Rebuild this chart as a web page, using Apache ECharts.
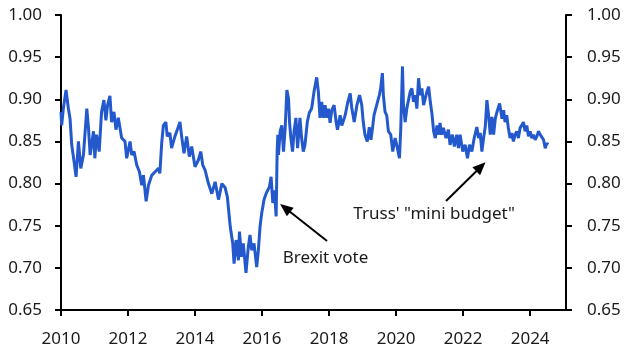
<!DOCTYPE html>
<html><head><meta charset="utf-8">
<script src="https://cdn.jsdelivr.net/npm/echarts@6/dist/echarts.min.js"></script>
<style>html,body{margin:0;padding:0;background:#fff}#c{width:633px;height:362px}</style>
</head><body><div id="c"></div>
<script>
// Decimal-year dates and EUR/GBP-style values
const dates = [
2010.00,2010.02,2010.07,2010.15,2010.22,2010.27,2010.32,2010.39,2010.45,2010.52,2010.59,2010.67,2010.77,2010.82,2010.87,2010.97,
2011.01,2011.06,2011.14,2011.21,2011.28,2011.34,2011.39,2011.46,2011.51,2011.58,2011.64,2011.71,2011.81,2011.91,2011.96,
2012.06,2012.11,2012.18,2012.26,2012.34,2012.41,2012.46,2012.54,2012.61,2012.71,2012.81,2012.91,2012.95,
2013.005,2013.055,2013.13,2013.17,2013.25,2013.30,2013.40,2013.50,2013.55,2013.60,2013.67,2013.75,2013.83,2013.90,
2014.00,2014.10,2014.17,2014.23,2014.30,2014.40,2014.50,2014.60,2014.70,2014.80,2014.90,2014.965,
2015.05,2015.125,2015.165,2015.225,2015.295,2015.325,2015.39,2015.44,2015.52,2015.59,2015.64,2015.69,2015.76,2015.84,2015.89,2015.94,2015.99,
2016.06,2016.12,2016.22,2016.27,2016.32,2016.37,2016.42,2016.45,2016.47,2016.49,2016.54,2016.59,2016.64,2016.69,2016.74,2016.79,2016.82,2016.86,2016.91,2016.955,
2017.01,2017.06,2017.13,2017.18,2017.23,2017.28,2017.35,2017.41,2017.48,2017.55,2017.63,2017.68,2017.73,2017.78,2017.83,2017.88,2017.93,2017.98,
2018.03,2018.08,2018.15,2018.21,2018.25,2018.33,2018.38,2018.48,2018.55,2018.63,2018.68,2018.75,2018.83,2018.91,2018.975,
2019.02,2019.07,2019.14,2019.20,2019.25,2019.30,2019.34,2019.42,2019.50,2019.54,2019.59,2019.62,2019.67,2019.72,2019.77,2019.84,2019.90,2019.97,
2020.04,2020.10,2020.14,2020.19,2020.22,2020.27,2020.32,2020.37,2020.42,2020.47,2020.52,2020.57,2020.62,2020.67,2020.72,2020.77,2020.82,2020.87,2020.92,2020.97,
2021.02,2021.07,2021.12,2021.17,2021.22,2021.27,2021.31,2021.36,2021.41,2021.49,2021.56,2021.61,2021.68,2021.74,2021.81,2021.86,2021.91,2021.99,
2022.06,2022.13,2022.19,2022.26,2022.33,2022.41,2022.46,2022.51,2022.56,2022.61,2022.66,2022.71,2022.76,2022.81,2022.86,2022.91,2022.96,
2023.01,2023.09,2023.16,2023.21,2023.25,2023.30,2023.35,2023.40,2023.45,2023.50,2023.55,2023.60,2023.65,2023.70,2023.75,2023.80,2023.85,2023.90,2023.95,
2024.00,2024.05,2024.10,2024.15,2024.20,2024.25,2024.30,2024.35,2024.40,2024.45,2024.50,2024.53
];
const rates = [
0.885,0.869,0.889,0.911,0.889,0.877,0.846,0.826,0.808,0.850,0.818,0.834,0.889,0.866,0.834,0.862,
0.830,0.858,0.838,0.885,0.899,0.875,0.893,0.904,0.873,0.885,0.864,0.878,0.854,0.850,0.830,
0.850,0.834,0.838,0.822,0.814,0.798,0.810,0.779,0.798,0.810,0.814,0.818,0.812,
0.848,0.869,0.873,0.856,0.860,0.842,0.856,0.867,0.873,0.856,0.836,0.856,0.832,0.844,
0.820,0.828,0.838,0.822,0.816,0.800,0.788,0.802,0.781,0.800,0.795,0.784,
0.749,0.729,0.705,0.733,0.709,0.743,0.713,0.729,0.694,0.725,0.739,0.721,0.729,0.701,0.721,0.749,0.765,
0.781,0.788,0.796,0.808,0.777,0.792,0.761,0.838,0.858,0.834,0.862,0.869,0.838,0.866,0.911,0.901,0.873,0.854,0.838,0.862,
0.878,0.842,0.878,0.854,0.838,0.846,0.873,0.884,0.889,0.909,0.926,0.909,0.878,0.897,0.878,0.893,0.878,0.889,
0.872,0.887,0.893,0.873,0.864,0.881,0.869,0.881,0.895,0.907,0.889,0.873,0.893,0.905,0.893,
0.873,0.858,0.850,0.867,0.852,0.867,0.881,0.893,0.905,0.913,0.931,0.905,0.885,0.881,0.862,0.858,0.838,0.854,
0.842,0.830,0.866,0.939,0.893,0.873,0.889,0.899,0.909,0.913,0.897,0.905,0.889,0.925,0.905,0.913,0.893,0.901,0.909,0.915,
0.897,0.883,0.862,0.854,0.869,0.858,0.872,0.858,0.866,0.854,0.864,0.846,0.858,0.844,0.858,0.842,0.858,0.838,
0.846,0.830,0.846,0.838,0.854,0.867,0.854,0.860,0.838,0.854,0.867,0.899,0.881,0.858,0.879,0.858,0.877,
0.885,0.895,0.877,0.887,0.873,0.881,0.866,0.854,0.860,0.850,0.858,0.862,0.854,0.866,0.869,0.873,0.862,0.869,0.856,
0.862,0.854,0.858,0.852,0.856,0.862,0.858,0.860,0.852,0.842,0.848,0.846
];
const xTickYears = [2010, 2012, 2014, 2016, 2018, 2020, 2022, 2024];
const annotationTexts = ['Brexit vote', 'Truss\' "mini budget"'];
const annotationTextAt = [[2016.60, 0.7117], [2018.71, 0.7639]];
const arrowFrom = [[2017.94, 0.7319], [2021.49, 0.7793]];
const arrowTo = [[2016.69, 0.7710], [2022.53, 0.8200]];

const FONT = 'Noto Sans';
const chart = echarts.init(document.getElementById('c'), null, {renderer: 'canvas'});
const lineData = dates.map((d, i) => [d, rates[i]]);
const yAxisBase = {
  type: 'value', min: 0.65, max: 1.0, interval: 0.05,
  splitLine: {show: false},
  axisLine: {show: true, lineStyle: {color: '#000', width: 2}},
  axisTick: {show: true, length: 6, lineStyle: {color: '#000', width: 2}},
  axisLabel: {color: '#1a1a1a', fontSize: 17, fontFamily: FONT, formatter: v => v.toFixed(2)}
};
chart.setOption({
  animation: false,
  grid: {left: 61, right: 67, top: 15, bottom: 52},
  xAxis: {
    type: 'value', min: 2010, max: 2025.07,
    splitLine: {show: false},
    axisLine: {onZero: false, lineStyle: {color: '#000', width: 2}},
    axisTick: {customValues: xTickYears, length: 6, lineStyle: {color: '#000', width: 2}},
    axisLabel: {customValues: xTickYears, color: '#1a1a1a', fontSize: 17, fontFamily: FONT, margin: 21,
      formatter: v => String(Math.round(v))}
  },
  yAxis: [
    Object.assign({}, yAxisBase, {position: 'left', axisLabel: Object.assign({}, yAxisBase.axisLabel, {margin: 19})}),
    Object.assign({}, yAxisBase, {position: 'right', axisLabel: Object.assign({}, yAxisBase.axisLabel, {margin: 21})})
  ],
  series: [{
    type: 'line', data: lineData, showSymbol: false, symbol: 'none',
    lineStyle: {color: '#2359cc', width: 3},
    markLine: {
      silent: true, animation: false,
      label: {show: false},
      itemStyle: {color: '#000'},
      lineStyle: {color: '#000', width: 2, type: 'solid'},
      symbol: ['none', 'triangle'], symbolSize: 12,
      data: arrowFrom.map((f, i) => [
        {coord: f, symbol: 'none'},
        {coord: arrowTo[i], symbol: 'triangle', symbolSize: [11, 13]}
      ])
    },
    markPoint: {
      silent: true, animation: false,
      symbol: 'circle', symbolSize: 1, itemStyle: {color: 'rgba(0,0,0,0)'},
      label: {show: true, position: 'right', distance: 0, color: '#1a1a1a', fontSize: 17, fontFamily: FONT,
        formatter: p => p.name},
      data: annotationTexts.map((t, i) => ({name: t, coord: annotationTextAt[i]}))
    }
  }]
});
</script></body></html>
